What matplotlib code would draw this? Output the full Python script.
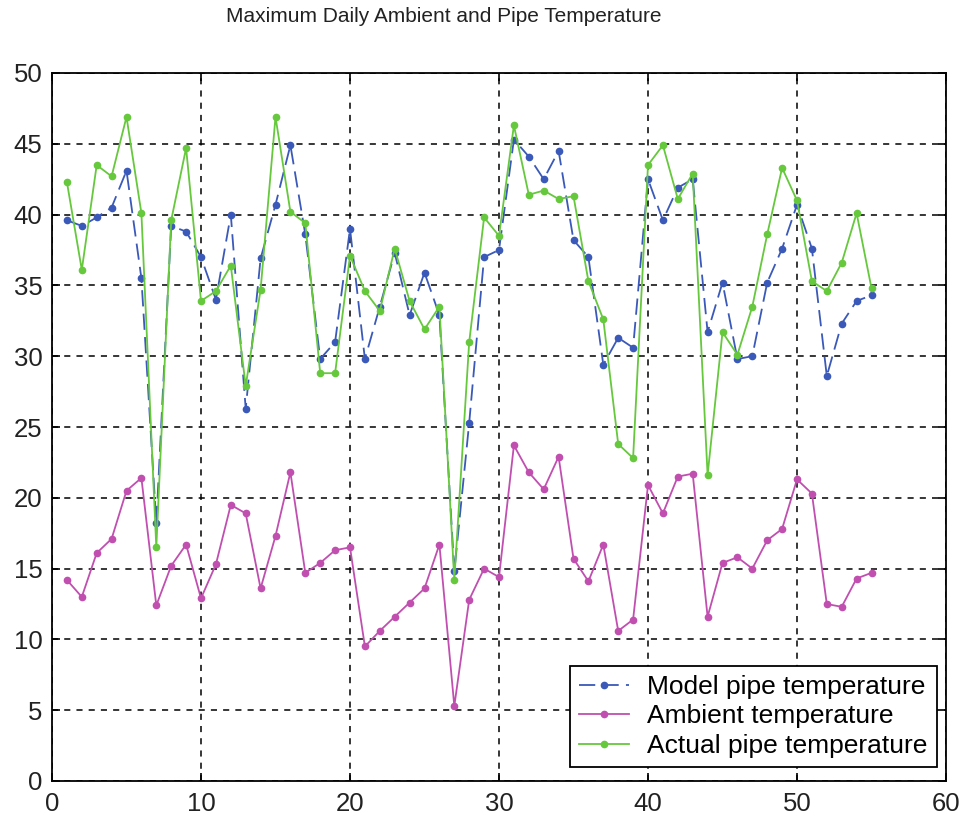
import matplotlib
matplotlib.use("Agg")
import matplotlib.pyplot as plt

days = list(range(1, 56))

model = [39.6, 39.2, 39.8, 40.5, 43.1, 35.5, 18.2, 39.2, 38.8, 37.0,
         34.0, 40.0, 26.3, 36.9, 40.7, 44.9, 38.6, 29.8, 31.0, 39.0,
         29.8, 33.5, 37.3, 32.9, 35.9, 32.9, 14.8, 25.3, 37.0, 37.5,
         45.3, 44.1, 42.5, 44.5, 38.2, 37.0, 29.4, 31.3, 30.6, 42.5,
         39.6, 41.9, 42.5, 31.7, 35.2, 29.8, 30.0, 35.2, 37.6, 40.7,
         37.6, 28.6, 32.3, 33.9, 34.3]

ambient = [14.2, 13.0, 16.1, 17.1, 20.5, 21.4, 12.4, 15.2, 16.7, 12.9,
           15.3, 19.5, 18.9, 13.6, 17.3, 21.8, 14.7, 15.4, 16.3, 16.5,
           9.5, 10.6, 11.6, 12.6, 13.6, 16.7, 5.3, 12.8, 15.0, 14.4,
           23.7, 21.8, 20.6, 22.9, 15.7, 14.1, 16.7, 10.6, 11.4, 20.9,
           18.9, 21.5, 21.7, 11.6, 15.4, 15.8, 15.0, 17.0, 17.8, 21.3,
           20.3, 12.5, 12.3, 14.3, 14.7]

actual = [42.3, 36.1, 43.5, 42.7, 46.9, 40.1, 16.5, 39.6, 44.7, 33.9,
          34.6, 36.4, 27.9, 34.7, 46.9, 40.2, 39.4, 28.8, 28.8, 37.1,
          34.6, 33.2, 37.6, 33.9, 31.9, 33.5, 14.2, 31.0, 39.8, 38.5,
          46.3, 41.4, 41.7, 41.1, 41.3, 35.3, 32.6, 23.8, 22.8, 43.5,
          44.9, 41.1, 42.9, 21.6, 31.7, 30.1, 33.5, 38.6, 43.3, 41.0,
          35.3, 34.6, 36.6, 40.1, 34.8]

labels = ["Model pipe temperature", "Ambient temperature", "Actual pipe temperature"]
title = "Maximum Daily Ambient and Pipe Temperature"

plt.rcParams['font.family'] = ['Liberation Sans', 'DejaVu Sans']

fig = plt.figure(figsize=(9.67, 8.16), dpi=100)
ax = fig.add_axes([52/967, 1-781/816, (946-52)/967, (781-73)/816])

ax.plot(days, model, color="#3a59b8", linestyle=(0, (9, 4)), linewidth=1.3,
        marker="o", markersize=4.5, label=labels[0], zorder=3)
ax.plot(days, ambient, color="#c04fb0", linestyle="-", linewidth=1.3,
        marker="o", markersize=4.5, label=labels[1], zorder=3)
ax.plot(days, actual, color="#66c83c", linestyle="-", linewidth=1.3,
        marker="o", markersize=4.5, label=labels[2], zorder=3)

ax.set_xlim(0, 60)
ax.set_ylim(0, 50)
ax.set_xticks(range(0, 61, 10))
ax.set_yticks(range(0, 51, 5))
ax.grid(True, color="black", linestyle=(0, (4, 4)), linewidth=1.1)
ax.tick_params(direction="in", top=True, right=True, length=6, width=1.2,
               labelsize=18.5, colors="black")
ax.tick_params(axis="x", pad=8)
ax.tick_params(axis="y", pad=7)
for lab in ax.get_xticklabels() + ax.get_yticklabels():
    lab.set_color("#222222")
for s in ax.spines.values():
    s.set_linewidth(1.3)

leg = ax.legend(loc="lower right", fontsize=19, frameon=True, fancybox=False,
                edgecolor="black", framealpha=1, borderpad=0.35, labelspacing=0.2,
                handlelength=1.9, handletextpad=0.7, borderaxespad=0,
                bbox_to_anchor=(0.990, 0.0198))
leg.get_frame().set_linewidth(1.3)

fig.text(444/967, 1-17/816, title, ha="center", va="center", fontsize=15,
         color="#222222")

fig.savefig("out.png", dpi=100)
